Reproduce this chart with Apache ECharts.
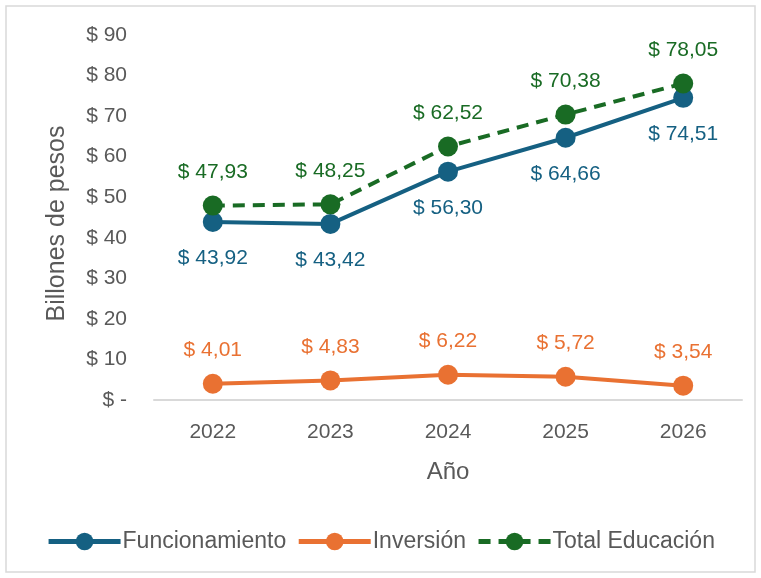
<!DOCTYPE html>
<html>
<head>
<meta charset="utf-8">
<script src="https://cdn.jsdelivr.net/npm/echarts@6/dist/echarts.min.js"></script>
<style>
  html, body { margin: 0; padding: 0; background: #fff; }
  #main { width: 761px; height: 578px; }
</style>
</head>
<body>
<div id="main"></div>
<script>
var years = ['2022', '2023', '2024', '2025', '2026'];
var funcionamiento = [43.92, 43.42, 56.30, 64.66, 74.51];
var inversion = [4.01, 4.83, 6.22, 5.72, 3.54];
var totalEducacion = [47.93, 48.25, 62.52, 70.38, 78.05];

var money = function(v) {
    return '$ ' + v.toFixed(2).replace('.', ',');
};

var myChart = echarts.init(document.getElementById('main'));
var font = '"Liberation Sans", Arial, sans-serif';
var gray = '#595959';

var makeSeries = function(name, data, color, pos, dashed) {
    return {
        name: name,
        type: 'line',
        data: data,
        symbol: 'circle',
        symbolSize: 20,
        itemStyle: { color: color },
        lineStyle: { color: color, width: 4, type: dashed ? [12, 8] : 'solid' },
        label: {
            show: true,
            position: pos,
            distance: pos === 'bottom' ? 16 : 13,
            color: color,
            fontSize: 21,
            fontFamily: font,
            formatter: function(p) { return money(p.value); }
        }
    };
};

var option = {
    animation: false,
    backgroundColor: '#fff',
    graphic: [{
        type: 'rect',
        shape: { x: 6, y: 6, width: 749, height: 566 },
        style: { fill: 'none', stroke: '#d9d9d9', lineWidth: 1.5 },
        silent: true
    }],
    grid: { left: 154, right: 19, top: 35, bottom: 178 },
    xAxis: {
        type: 'category',
        data: years,
        name: 'Año',
        nameLocation: 'middle',
        nameGap: 60,
        nameTextStyle: { color: gray, fontSize: 24, fontFamily: font },
        axisLine: { show: true, lineStyle: { color: '#d9d9d9', width: 2 } },
        axisTick: { show: false },
        axisLabel: { color: gray, fontSize: 21, fontFamily: font, margin: 22 }
    },
    yAxis: {
        type: 'value',
        min: 0,
        max: 90,
        interval: 10,
        name: 'Billones de pesos',
        nameLocation: 'middle',
        nameGap: 84,
        nameTextStyle: { color: gray, fontSize: 25, fontFamily: font, padding: [0, 12, 0, 0] },
        splitLine: { show: false },
        axisLine: { show: false },
        axisTick: { show: false },
        axisLabel: {
            color: gray, fontSize: 21, fontFamily: font, margin: 27,
            formatter: function(v) { return v === 0 ? '$ -' : '$ ' + v; }
        }
    },
    legend: {
        bottom: 20,
        left: 'center',
        itemWidth: 72,
        itemHeight: 22,
        itemGap: 10,
        lineStyle: { width: 5 },
        textStyle: { color: gray, fontSize: 23, fontFamily: font, padding: [0, 0, 0, -3] },
        data: ['Funcionamiento', 'Inversión', 'Total Educación']
    },
    series: [
        makeSeries('Funcionamiento', funcionamiento, '#156082', 'bottom', false),
        makeSeries('Inversión', inversion, '#e97132', 'top', false),
        makeSeries('Total Educación', totalEducacion, '#196b24', 'top', true)
    ]
};
myChart.setOption(option);
</script>
</body>
</html>
